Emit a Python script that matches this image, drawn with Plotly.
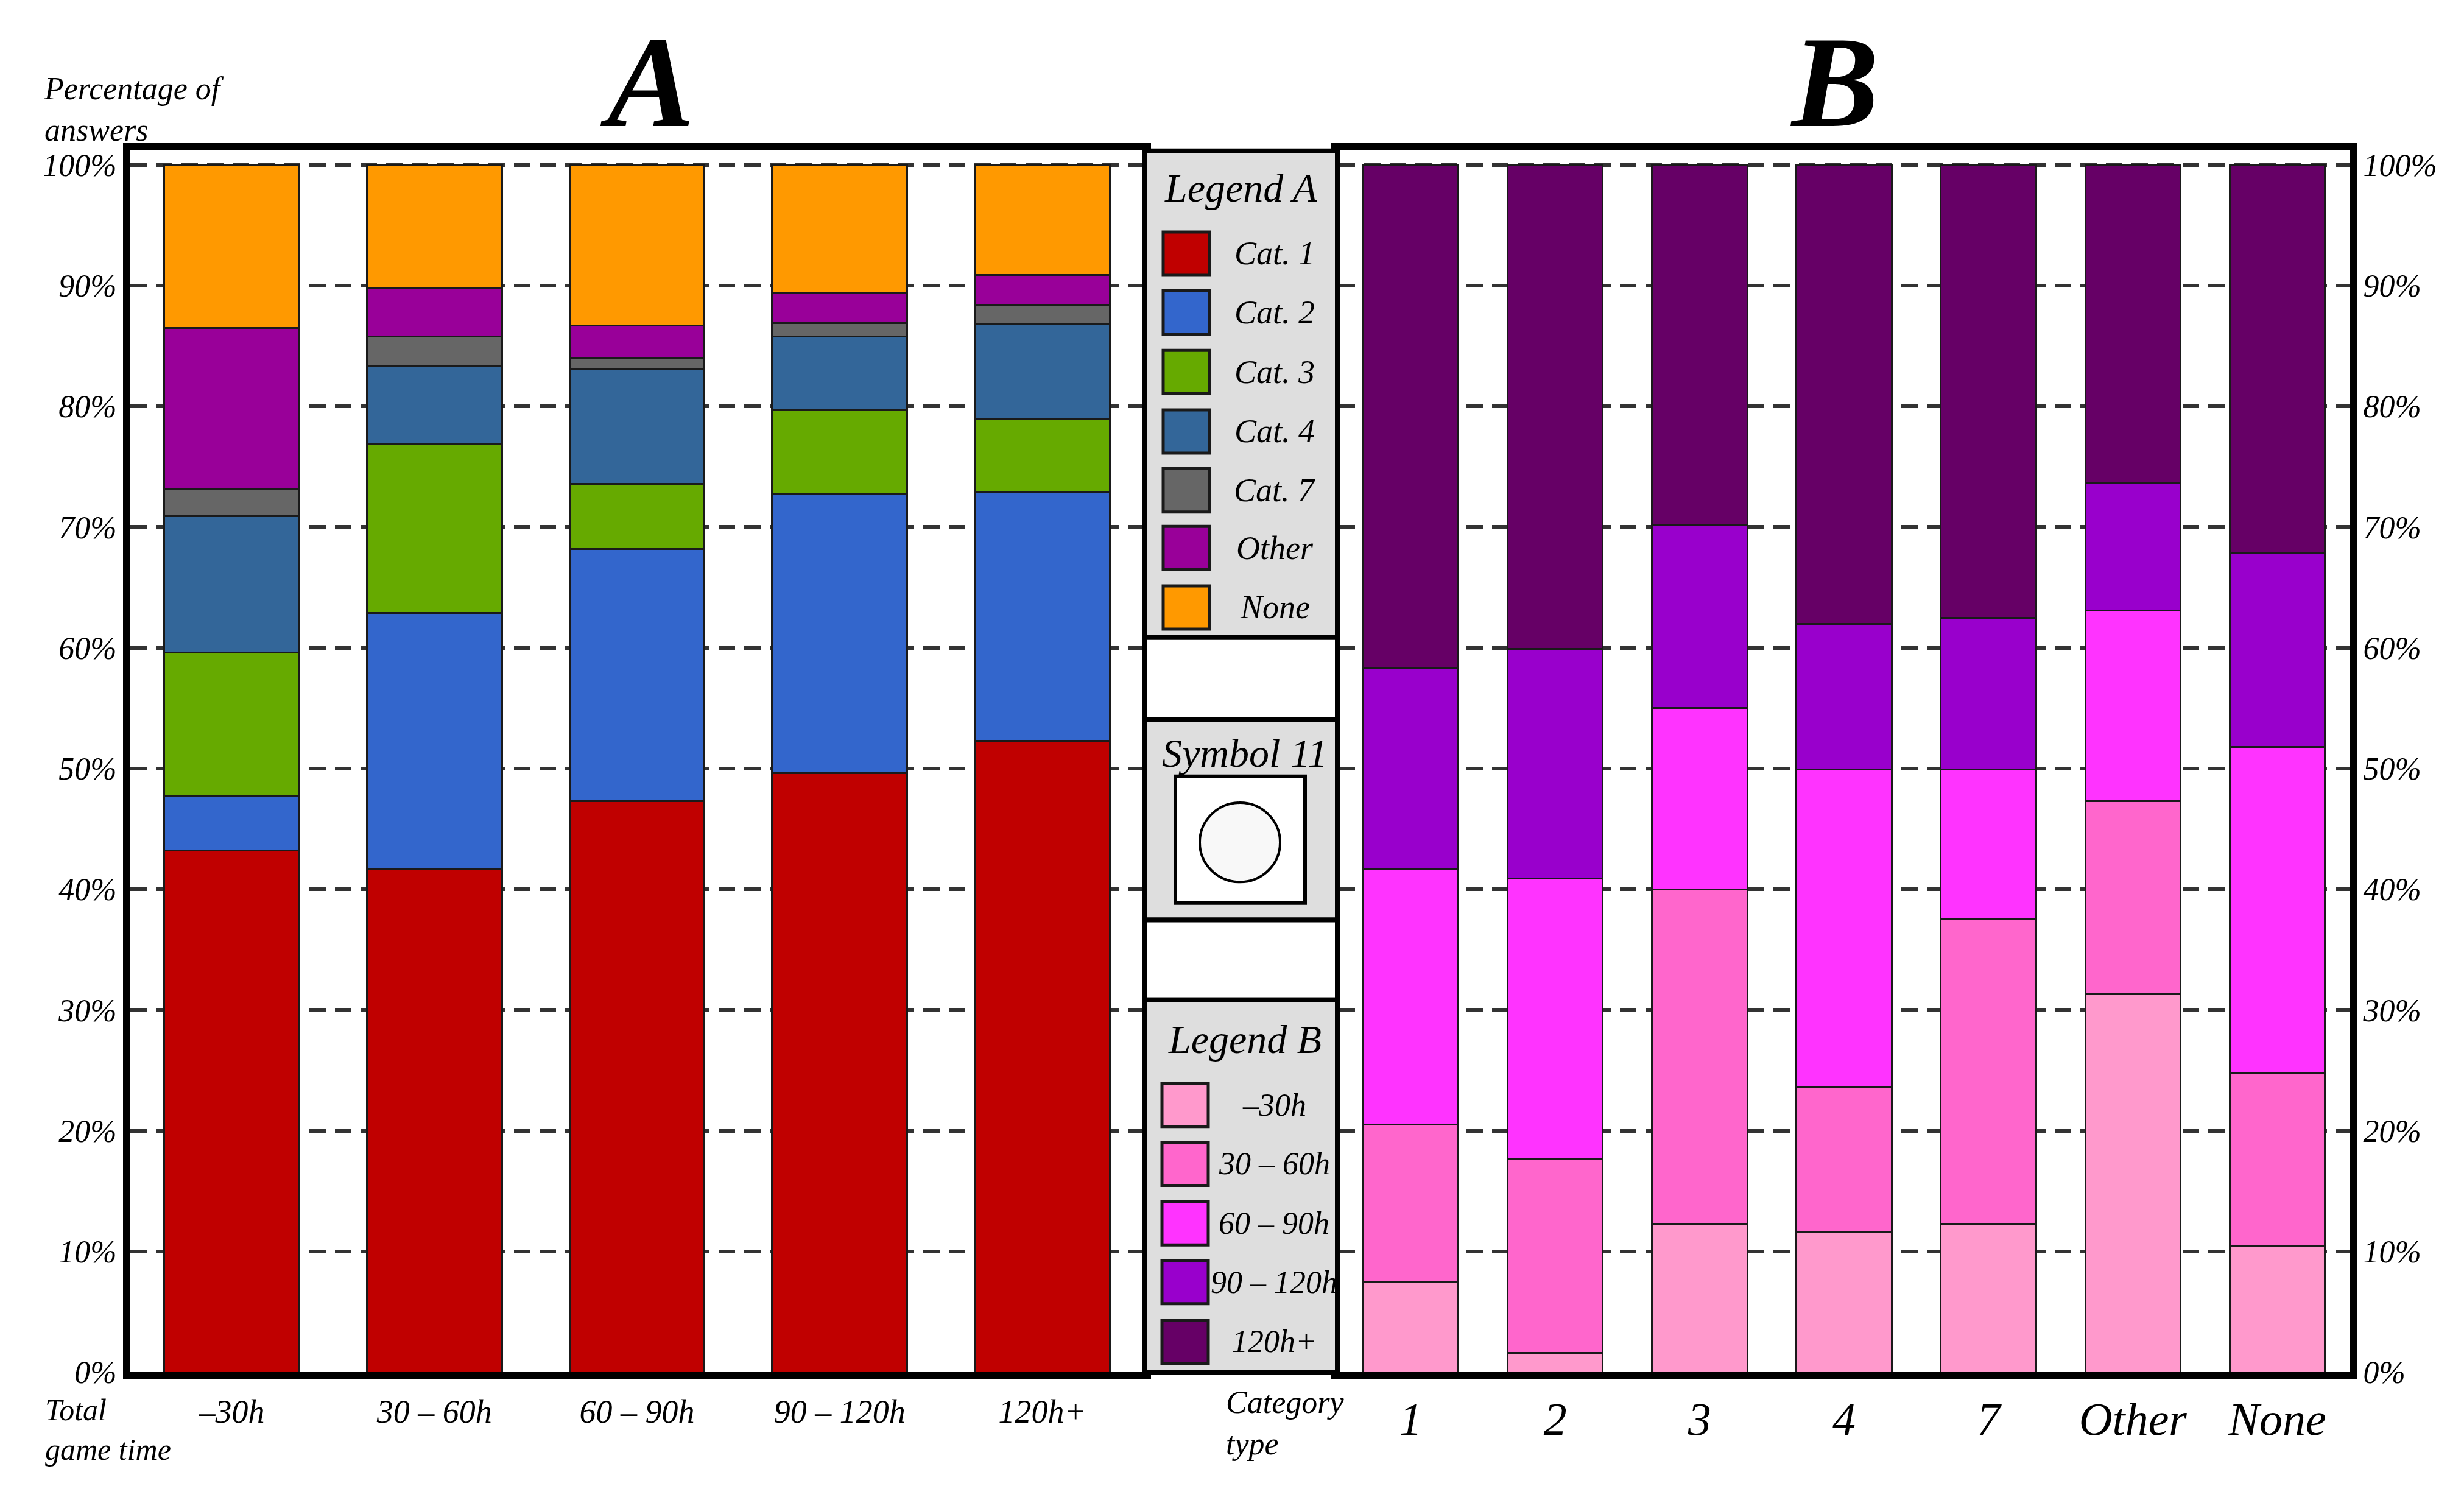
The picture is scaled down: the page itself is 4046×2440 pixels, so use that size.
import plotly.graph_objects as go

# ---- data (percent of answers) ----
game_time = ['–30h', '30 – 60h', '60 – 90h', '90 – 120h', '120h+']
cat_names = ['Cat. 1', 'Cat. 2', 'Cat. 3', 'Cat. 4', 'Cat. 7', 'Other', 'None']
cat_colors = ['#c00000', '#3366cc', '#66aa00', '#336699', '#666666', '#990099', '#ff9900']
cat1 = [43.2, 41.7, 47.3, 49.6, 52.3]
cat2 = [4.5, 21.2, 20.9, 23.1, 20.6]
cat3 = [11.9, 14.0, 5.4, 7.0, 6.0]
cat4 = [11.3, 6.4, 9.5, 6.1, 7.9]
cat7 = [2.2, 2.5, 0.9, 1.1, 1.6]
cat_other = [13.4, 4.0, 2.7, 2.5, 2.5]
cat_none = [13.5, 10.2, 13.3, 10.6, 9.1]

category_type = ['1', '2', '3', '4', '7', 'Other', 'None']
time_names = ['–30h', '30 – 60h', '60 – 90h', '90 – 120h', '120h+']
time_colors = ['#ff99cc', '#ff66cc', '#ff33ff', '#9900cc', '#660066']
t_30 = [7.5, 1.6, 12.3, 11.6, 12.3, 31.3, 10.5]
t_30_60 = [13.0, 16.1, 27.7, 12.0, 25.2, 16.0, 14.3]
t_60_90 = [21.2, 23.2, 15.0, 26.3, 12.4, 15.8, 27.0]
t_90_120 = [16.6, 19.0, 15.2, 12.1, 12.6, 10.6, 16.1]
t_120 = [41.7, 40.1, 29.8, 38.0, 37.5, 26.3, 32.1]

y_ticks = list(range(0, 101, 10))
y_tick_text = [f'{v}%' for v in y_ticks]

W, H = 4046, 2440
FONT = 'Liberation Serif'


def px(x):
    return x / W


def py(y):
    return 1 - y / H


def ifont(size, **kw):
    return dict(family=FONT, size=size, color='black', style='italic', **kw)


fig = go.Figure()

series_a = [cat1, cat2, cat3, cat4, cat7, cat_other, cat_none]
for name, color, vals in zip(cat_names, cat_colors, series_a):
    fig.add_trace(go.Bar(x=game_time, y=vals, name=name, marker_color=color,
                         marker_line_color='#1a1a1a', marker_line_width=3,
                         width=0.667, xaxis='x', yaxis='y', showlegend=False))

series_b = [t_30, t_30_60, t_60_90, t_90_120, t_120]
for name, color, vals in zip(time_names, time_colors, series_b):
    fig.add_trace(go.Bar(x=category_type, y=vals, name=name, marker_color=color,
                         marker_line_color='#1a1a1a', marker_line_width=3,
                         width=0.66, xaxis='x2', yaxis='y2', showlegend=False))

ydom = [py(2272), py(238)]
yrange = [0, 101.2]


def y_axis(**extra):
    d = dict(domain=ydom, range=yrange, tickmode='array', tickvals=y_ticks,
             ticktext=y_tick_text, tickfont=ifont(52),
             ticks='', zeroline=False,
             showgrid=True, gridcolor='#333333', gridwidth=6, griddash='27px,15px',
             showline=True, linecolor='black', linewidth=12, mirror=True)
    d.update(extra)
    return d


def x_axis(**extra):
    d = dict(showgrid=False, tickcolor='rgba(0,0,0,0)',
             showline=True, linecolor='black', linewidth=12, mirror=True)
    d.update(extra)
    return d


fig.update_layout(
    width=W, height=H,
    margin=dict(l=0, r=0, t=0, b=0),
    font=ifont(52),
    paper_bgcolor='white', plot_bgcolor='white',
    barmode='stack', showlegend=False,
    xaxis=x_axis(domain=[px(206), px(1870)], range=[-0.5, 4.5], anchor='y',
                 ticks='outside', ticklen=6, tickfont=ifont(54)),
    yaxis=y_axis(anchor='x'),
    xaxis2=x_axis(domain=[px(2190), px(3850)], range=[-0.5, 6.5], anchor='y2',
                  ticks='', tickfont=ifont(76)),
    yaxis2=y_axis(anchor='x2', side='right'),
)

# ---- middle panel with the legends ----
shapes = []
panel = [(239, 1049, '#dedede'), (1049, 1186, 'white'), (1186, 1519, '#dedede'),
         (1519, 1652, 'white'), (1652, 2272, '#dedede')]
for y0, y1, fill in panel:
    shapes.append(dict(type='rect', xref='paper', yref='paper',
                       x0=px(1872), x1=px(2188), y0=py(y1), y1=py(y0),
                       fillcolor=fill, line=dict(color='black', width=8)))
# symbol 11 box
shapes.append(dict(type='rect', xref='paper', yref='paper',
                   x0=px(1922), x1=px(2135), y0=py(1491), y1=py(1280),
                   fillcolor='white', line=dict(color='black', width=6)))
shapes.append(dict(type='circle', xref='paper', yref='paper',
                   x0=px(2028 - 66), x1=px(2028 + 66), y0=py(1390 + 66), y1=py(1390 - 66),
                   fillcolor='#f8f8f8', line=dict(color='black', width=4)))

annotations = []


def note(text, x, y, font, xanchor='center', yanchor='middle'):
    annotations.append(dict(text=text, x=px(x), y=py(y), xref='paper', yref='paper',
                            showarrow=False, font=font, align='left',
                            xanchor=xanchor, yanchor=yanchor))


ys_a = [410, 508, 607, 706, 804, 900, 999]
for name, color, yc in zip(cat_names, cat_colors, ys_a):
    shapes.append(dict(type='rect', xref='paper', yref='paper',
                       x0=px(1902), x1=px(1978), y0=py(yc + 36), y1=py(yc - 36),
                       fillcolor=color, line=dict(color='#1a1a1a', width=5)))
    note(name, 2085, yc, ifont(54))
ys_b = [1827, 1925, 2024, 2122, 2221]
for name, color, yc in zip(time_names, time_colors, ys_b):
    shapes.append(dict(type='rect', xref='paper', yref='paper',
                       x0=px(1900), x1=px(1976), y0=py(yc + 36), y1=py(yc - 36),
                       fillcolor=color, line=dict(color='#1a1a1a', width=5)))
    note(name, 2084, yc, ifont(52))

for txt, xc, yc in [('Legend A', 2030, 301), ('Symbol 11', 2036, 1241), ('Legend B', 2036, 1718)]:
    note(txt, xc, yc, ifont(66))

note('A', 1054, 124, ifont(215, weight='bold'))
note('B', 3004, 124, ifont(215, weight='bold'))

note('Percentage of<br>answers', 62, 170, ifont(52), xanchor='left')
note('Total<br>game time', 64, 2368, ifont(50), xanchor='left')
note('Category<br>type', 2003, 2356, ifont(52), xanchor='left')

fig.update_layout(shapes=shapes, annotations=annotations)

fig.write_html("out.html")
